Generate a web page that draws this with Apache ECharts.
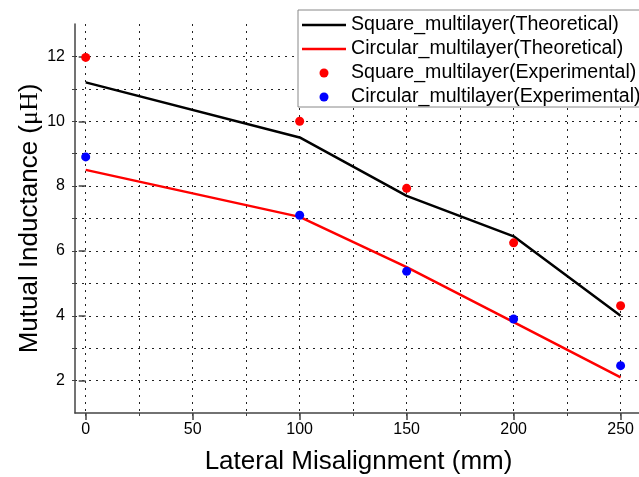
<!DOCTYPE html>
<html>
<head>
<meta charset="utf-8">
<script src="https://cdn.jsdelivr.net/npm/echarts@6/dist/echarts.min.js"></script>
<style>
  html, body { margin: 0; padding: 0; background: #fff; }
  #chart { width: 639px; height: 477px; }
</style>
</head>
<body>
<div id="chart"></div>
<script>
// lateral misalignment (mm)
const misalign = [0, 100, 150, 200, 250]

// mutual inductance (uH)
const squareTheory = [11.2, 9.5, 7.7, 6.45, 4.0]
const circularTheory = [8.5, 7.05, 5.5, 3.8, 2.1]
const squareExp = [11.97, 10.0, 7.93, 6.25, 4.31]
const circularExp = [8.9, 7.1, 5.37, 3.9, 2.46]

// axis ticks
const xLabels = [0, 50, 100, 150, 200, 250]
const xGrid = [0, 25, 50, 75, 100, 125, 150, 175, 200, 225, 250]
const yLabels = [2, 4, 6, 8, 10, 12]
const yGrid = [2, 3, 4, 5, 6, 7, 8, 9, 10, 11, 12]

const font = 'Liberation Sans, Arial, sans-serif'
const axisColor = '#444'
const dotted = { show: true, lineStyle: { color: '#222', width: 1, type: [2, 5] } }
// thin bar used as the legend sample for the two lines
const lineIcon = 'path://M0 0 H44 V2.6 H0 Z'

const pairs = (xs, ys) => xs.map((x, i) => [x, ys[i]])

const chart = echarts.init(document.getElementById('chart'))

chart.setOption({
  animation: false,
  backgroundColor: '#fff',
  textStyle: { fontFamily: font },
  grid: { left: 75, right: -3, top: 24, bottom: 64, outerBoundsMode: 'none' },
  legend: {
    left: 298,
    top: 10,
    orient: 'vertical',
    align: 'left',
    itemWidth: 44,
    itemHeight: 9,
    itemGap: 4,
    padding: [5, 60, 0, 4],
    borderColor: '#888',
    borderWidth: 1,
    backgroundColor: '#fff',
    textStyle: { fontSize: 19.6, color: '#000', fontFamily: font },
    data: [
      { name: 'Square_multilayer(Theoretical)', icon: lineIcon },
      { name: 'Circular_multilayer(Theoretical)', icon: lineIcon },
      { name: 'Square_multilayer(Experimental)', icon: 'circle' },
      { name: 'Circular_multilayer(Experimental)', icon: 'circle' }
    ]
  },
  xAxis: [
    {
      type: 'value',
      min: -5,
      max: 260,
      name: 'Lateral Misalignment (mm)',
      nameLocation: 'middle',
      nameGap: 36,
      nameTextStyle: { fontSize: 26, color: '#000', fontFamily: font },
      axisLine: { show: true, onZero: false, lineStyle: { color: axisColor, width: 1.5 } },
      axisTick: { show: true, customValues: xGrid, length: 3, lineStyle: { color: axisColor } },
      axisLabel: { customValues: xLabels, fontSize: 16, color: '#000', margin: 9 },
      splitLine: dotted
    },
    {
      type: 'value',
      min: -5,
      max: 260,
      position: 'bottom',
      axisLine: { show: false },
      axisTick: { show: true, customValues: xLabels, length: 7, lineStyle: { color: axisColor, width: 1.5 } },
      axisLabel: { show: false },
      splitLine: { show: false }
    }
  ],
  yAxis: [
    {
      type: 'value',
      min: 1,
      max: 13,
      name: 'Mutual Inductance ({s|μH})',
      nameLocation: 'middle',
      nameGap: 32,
      nameMoveOverlap: false,
      nameTextStyle: {
        fontSize: 26,
        color: '#000',
        fontFamily: font,
        rich: { s: { fontSize: 26, fontFamily: 'Liberation Serif, serif', color: '#000' } }
      },
      axisLine: { show: true, onZero: false, lineStyle: { color: axisColor, width: 1.5 } },
      axisTick: { show: true, customValues: yGrid, length: 3, lineStyle: { color: axisColor } },
      axisLabel: { customValues: yLabels, fontSize: 16, color: '#000', margin: 10 },
      splitLine: dotted
    },
    {
      type: 'value',
      min: 1,
      max: 13,
      position: 'left',
      axisLine: { show: false },
      axisTick: { show: true, customValues: yLabels, length: 7, lineStyle: { color: axisColor, width: 1.5 } },
      axisLabel: { show: false },
      splitLine: { show: false }
    }
  ],
  series: [
    {
      name: 'Square_multilayer(Theoretical)',
      type: 'line',
      data: pairs(misalign, squareTheory),
      symbol: 'none',
      lineStyle: { color: '#000', width: 2.5 },
      itemStyle: { color: '#000' },
      z: 2
    },
    {
      name: 'Circular_multilayer(Theoretical)',
      type: 'line',
      data: pairs(misalign, circularTheory),
      symbol: 'none',
      lineStyle: { color: '#ff0000', width: 2.5 },
      itemStyle: { color: '#ff0000' },
      z: 2
    },
    {
      name: 'Square_multilayer(Experimental)',
      type: 'scatter',
      data: pairs(misalign, squareExp),
      symbolSize: 9,
      itemStyle: { color: '#ff0000', opacity: 1 },
      z: 3
    },
    {
      name: 'Circular_multilayer(Experimental)',
      type: 'scatter',
      data: pairs(misalign, circularExp),
      symbolSize: 9,
      itemStyle: { color: '#0000ff', opacity: 1 },
      z: 3
    }
  ]
})
</script>
</body>
</html>
